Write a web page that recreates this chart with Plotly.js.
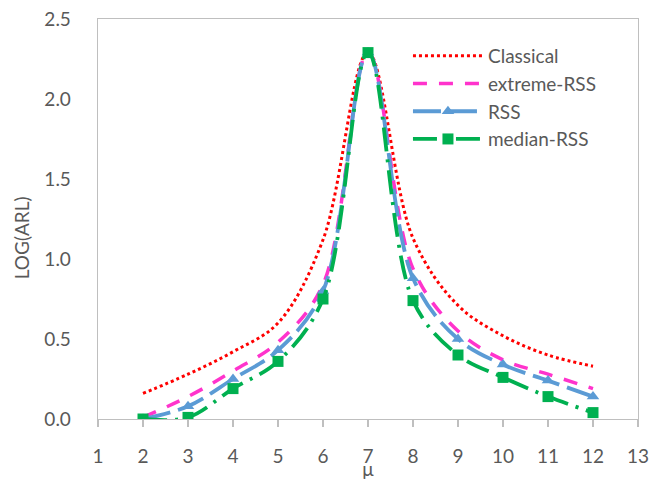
<!DOCTYPE html>
<html>
<head>
<meta charset="utf-8">
<script src="https://cdn.plot.ly/plotly-3.0.1.min.js"></script>
<style>html,body{margin:0;padding:0;background:#fff;}#chart{width:667px;height:480px;}</style>
</head>
<body>
<div id="chart"></div>
<script>
const mu = [2, 3, 4, 5, 6, 7, 8, 9, 10, 11, 12];
const classical = [0.16, 0.28, 0.42, 0.60, 1.12, 2.29, 1.13, 0.71, 0.52, 0.40, 0.33];
const extremeRSS = [0.01, 0.14, 0.30, 0.48, 0.84, 2.29, 0.94, 0.55, 0.37, 0.28, 0.19];
const rss = [0.00, 0.08, 0.25, 0.43, 0.80, 2.29, 0.88, 0.50, 0.34, 0.24, 0.14];
const medianRSS = [0.00, 0.01, 0.19, 0.36, 0.75, 2.29, 0.74, 0.40, 0.26, 0.14, 0.04];
const xTicks = [1, 2, 3, 4, 5, 6, 7, 8, 9, 10, 11, 12, 13];
const yTicks = [0, 0.5, 1.0, 1.5, 2.0, 2.5];
const yTickText = ['0.0', '0.5', '1.0', '1.5', '2.0', '2.5'];

const fontFam = 'Lato, "Open Sans", sans-serif';
const gray = '#595959';

const traces = [
  {x: mu, y: classical, name: 'Classical', mode: 'lines',
   line: {color: '#ff0000', width: 3, dash: 'dot', shape: 'spline', smoothing: 1}},
  {x: mu, y: extremeRSS, name: 'extreme-RSS', mode: 'lines',
   line: {color: '#ff33cc', width: 3.5, dash: '14px,12px', shape: 'spline', smoothing: 1}},
  {x: mu, y: rss, name: 'RSS', mode: 'lines+markers',
   line: {color: '#5b9bd5', width: 3.8, dash: '28px,8px', shape: 'spline', smoothing: 1},
   marker: {symbol: 'triangle-up', size: 11, color: '#5b9bd5'}},
  {x: mu, y: medianRSS, name: 'median-RSS', mode: 'lines+markers',
   line: {color: '#00b050', width: 3.8, dash: '24px,8px,3px,8px', shape: 'spline', smoothing: 1},
   marker: {symbol: 'square', size: 11, color: '#00b050'}}
];

const layout = {
  width: 667, height: 480,
  margin: {l: 98, r: 29, t: 19, b: 61},
  paper_bgcolor: '#fff', plot_bgcolor: '#fff',
  font: {family: fontFam, size: 19, color: gray},
  showlegend: true,
  legend: {x: 0.574, y: 0.955, xanchor: 'left', yanchor: 'top', itemwidth: 70,
    font: {family: fontFam, size: 19, color: gray}, bgcolor: 'rgba(0,0,0,0)'},
  xaxis: {range: [1, 13], tickvals: xTicks, ticktext: xTicks.map(String),
    showgrid: false, zeroline: false, showline: true, mirror: true,
    linecolor: '#bfbfbf', linewidth: 1.3, ticks: 'outside', ticklen: 7,
    tickcolor: '#bfbfbf', tickwidth: 1.3, ticklabelstandoff: 13,
    title: {text: 'μ', font: {family: fontFam, size: 19, color: gray}, standoff: 5}},
  yaxis: {range: [0, 2.5], tickvals: yTicks, ticktext: yTickText,
    showgrid: false, zeroline: false, showline: true, mirror: true,
    linecolor: '#bfbfbf', linewidth: 1.3, ticks: '', ticklabelstandoff: 22},
  annotations: [{text: 'LOG(ARL)', textangle: -90, xref: 'paper', yref: 'paper',
    x: -0.142, y: 0.4525, xanchor: 'center', yanchor: 'middle', showarrow: false,
    font: {family: fontFam, size: 19, color: gray}}]
};

Plotly.newPlot('chart', traces, layout, {displayModeBar: false, staticPlot: true});
</script>
</body>
</html>
